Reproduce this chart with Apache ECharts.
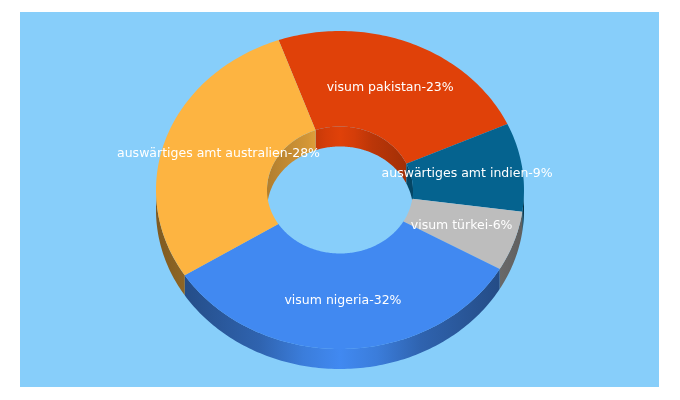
<!DOCTYPE html>
<html><head><meta charset="utf-8">
<style>html,body{margin:0;padding:0;background:#fff}#c{width:680px;height:400px}</style>
<script src="https://cdn.jsdelivr.net/npm/echarts@6/dist/echarts.min.js"></script>
</head><body><div id="c"></div>
<script>
const names = ['visum pakistan','auswärtiges amt indien','visum türkei','visum nigeria','auswärtiges amt australien'];
const shares = [23.6, 9.0, 6.1, 32.7, 28.6];
const labels = ['23%','9%','6%','32%','28%'];
const colors = ['#E04109','#05638F','#BDBDBD','#4189F1','#FDB441'];

const START = -19.5, CX = 340, CY = 190, RX = 184, RY = 159, HX = 73, HY = 63.5, DEPTH = 20;

function shade(hex, f){
  const n = parseInt(hex.slice(1),16);
  return 'rgb('+[(n>>16)&255,(n>>8)&255,n&255].map(v=>Math.round(v*f)).join(',')+')';
}
function wallFill(c, rx, lo){
  const stops = [[0,lo],[0.28,lo+(1-lo)*0.45],[0.4,lo+(1-lo)*0.82],[0.5,1],[0.6,lo+(1-lo)*0.82],[0.72,lo+(1-lo)*0.45],[1,lo]];
  return new echarts.graphic.LinearGradient(CX-rx,0,CX+rx,0,stops.map(s=>({offset:s[0],color:shade(c,s[1])})),true);
}
function pt(deg, rx, ry, dy){
  const a = deg*Math.PI/180;
  return [CX+rx*Math.sin(a), CY-ry*Math.cos(a)+(dy||0)];
}
function arc(a0,a1,rx,ry,dy){
  const n = Math.max(2,Math.ceil(Math.abs(a1-a0)));
  const out=[];
  for(let i=0;i<=n;i++) out.push(pt(a0+(a1-a0)*i/n,rx,ry,dy));
  return out;
}
function overlap(a0,a1,wins){
  const r=[];
  wins.forEach(w=>{const s=Math.max(a0,w[0]),e=Math.min(a1,w[1]); if(e>s) r.push([s,e]);});
  return r;
}
const total = shares.reduce((a,b)=>a+b,0);
const data = shares.map((v,i)=>({value:[i,v],name:names[i]}));

function renderItem(params, api){
  const i = api.value(0);
  let a0 = START;
  for(let k=0;k<i;k++) a0 += shares[k]/total*360;
  const a1 = a0 + api.value(1)/total*360;
  const c = colors[i];
  const kids = [];
  overlap(a0,a1,[[90,270]]).forEach(s=>{
    kids.push({type:'polygon',z2:1,shape:{points:arc(s[0],s[1],RX,RY,0).concat(arc(s[1],s[0],RX,RY,DEPTH))},style:{fill:wallFill(c,RX,0.5)}});
  });
  overlap(a0,a1,[[-90,90],[270,450]]).forEach(s=>{
    kids.push({type:'polygon',z2:1,shape:{points:arc(s[0],s[1],HX,HY,0).concat(arc(s[1],s[0],HX,HY,DEPTH))},style:{fill:wallFill(c,HX,0.7)}});
  });
  kids.push({type:'polygon',z2:2,shape:{points:arc(a0,a1,RX,RY,0).concat(arc(a1,a0,HX,HY,0))},style:{fill:c}});
  const m = pt((a0+a1)/2,(RX+HX)/2,(RY+HY)/2,0);
  kids.push({type:'text',z2:3,x:m[0],y:m[1],style:{text:names[i]+'-'+labels[i],fill:'#fff',font:'12.5px "DejaVu Sans"',align:'center',verticalAlign:'middle'}});
  return {type:'group',children:kids};
}
const chart = echarts.init(document.getElementById('c'),null,{renderer:'canvas'});
chart.setOption({
  animation:false,
  backgroundColor:'#fff',
  graphic:[{type:'rect',z:0,silent:true,shape:{x:20,y:12,width:639,height:375},style:{fill:'#87CEFA'}}],
  series:[{type:'custom',coordinateSystem:'none',silent:true,clip:false,renderItem,data}]
});
</script></body></html>
